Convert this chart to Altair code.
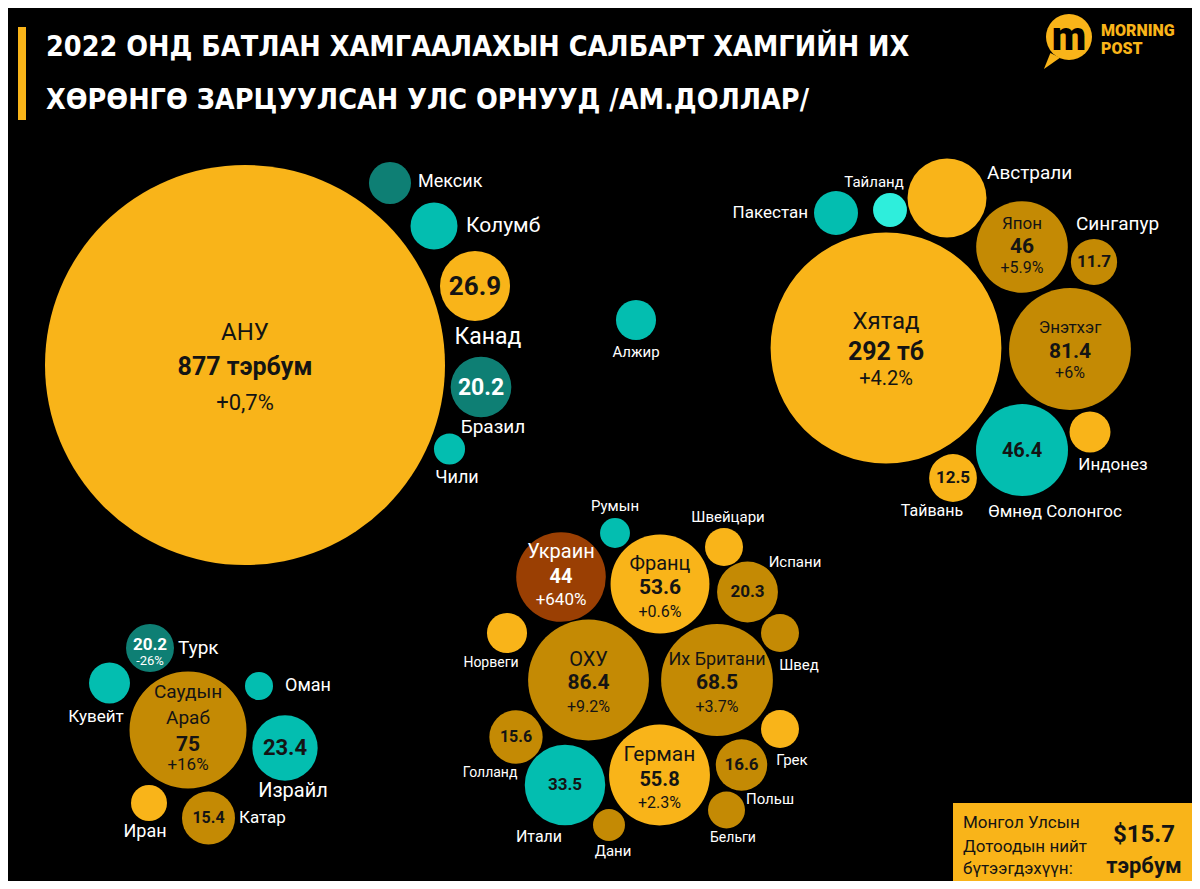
import altair as alt
import pandas as pd

# ---------------- data ----------------
countries = ["АНУ", "Мексик", "Колумб", "Канад", "Бразил", "Чили", "Алжир",
             "Хятад", "Пакестан", "Тайланд", "Австрали", "Япон", "Сингапур", "Энэтхэг",
             "Өмнөд Солонгос", "Индонез", "Тайвань",
             "Саудын Араб", "Турк", "Кувейт", "Оман", "Израйл", "Иран", "Катар",
             "Украин", "Румын", "Франц", "Швейцари", "Испани", "Швед", "Норвеги", "ОХУ",
             "Их Британи", "Грек", "Польш", "Бельги", "Герман", "Голланд", "Итали", "Дани"]
# spending, bn USD (unlabelled bubbles estimated from their area)
spend = [877, 9.7, 12.1, 26.9, 20.2, 5.3, 8.8,
         292, 10.6, 6.3, 34.2, 46, 11.7, 81.4,
         46.4, 9.2, 12.5,
         75, 12.6, 9.2, 4.3, 23.4, 7.1, 15.4,
         44, 4.9, 53.6, 7.9, 20.3, 7.9, 8.8, 80,
         68.5, 7.9, 14.5, 7.5, 55.8, 15.6, 35.5, 5.6]
group = ["Y", "DT", "T", "Y", "DT", "T", "T",
         "Y", "T", "LC", "Y", "G", "G", "G",
         "T", "Y", "Y",
         "G", "DT", "T", "T", "T", "Y", "G",
         "BR", "T", "Y", "Y", "G", "G", "Y", "G",
         "G", "Y", "G", "G", "Y", "G", "T", "G"]
# bubble layout (reference pixel grid)
cx = [245, 390, 434, 475, 481, 449.5, 636,
      886, 836, 890, 947, 1022, 1094, 1070,
      1022, 1090, 953,
      188, 150, 109.5, 259, 285, 149, 208.5,
      561, 615, 660, 724, 747.5, 780, 507, 588.5,
      717, 780, 741.5, 726.5, 659.5, 516, 565, 609]
cy = [365, 183, 226, 286, 387, 449, 320,
      348, 213, 210, 198, 247, 262, 349,
      450, 432, 478,
      730, 648, 683, 686, 748, 803, 818,
      577, 533, 584, 547, 592, 633, 633, 680,
      680, 729, 765, 810, 775, 737, 785, 825]

group_keys = ["Y", "G", "T", "DT", "LC", "BR"]
group_colors = ["#F9B419", "#C48A04", "#03BEB0", "#0E7F74", "#2EEEDC", "#9A3F03"]

DARK = "#141414"
WHITE = "#FFFFFF"
# labels: text, x, y, font size, bold, colour, align
labels = [
    ("АНУ", 245, 333, 24, False, DARK, "center"),
    ("877 тэрбум", 245, 367, 25, True, DARK, "center"),
    ("+0,7%", 245, 403, 22, False, DARK, "center"),
    ("Мексик", 418, 182, 18, False, WHITE, "left"),
    ("Колумб", 466, 226, 21, False, WHITE, "left"),
    ("26.9", 475, 287, 26, True, DARK, "center"),
    ("Канад", 488, 337, 23, False, WHITE, "center"),
    ("20.2", 481, 388, 23, True, WHITE, "center"),
    ("Бразил", 493, 427, 19, False, WHITE, "center"),
    ("Чили", 457, 478, 18, False, WHITE, "center"),
    ("Алжир", 636, 352, 15, False, WHITE, "center"),
    ("Хятад", 886, 322, 24, False, DARK, "center"),
    ("292 тб", 886, 352, 25, True, DARK, "center"),
    ("+4.2%", 886, 379, 20, False, DARK, "center"),
    ("Пакестан", 808, 213, 17, False, WHITE, "right"),
    ("Тайланд", 874, 182, 15, False, WHITE, "center"),
    ("Австрали", 987, 173, 19, False, WHITE, "left"),
    ("Япон", 1022, 224, 17, False, DARK, "center"),
    ("46", 1022, 247, 21, True, DARK, "center"),
    ("+5.9%", 1022, 268, 16, False, DARK, "center"),
    ("Сингапур", 1076, 224, 19, False, WHITE, "left"),
    ("11.7", 1094, 262, 17, True, DARK, "center"),
    ("Энэтхэг", 1070, 328, 17, False, DARK, "center"),
    ("81.4", 1070, 352, 21, True, DARK, "center"),
    ("+6%", 1070, 373, 16, False, DARK, "center"),
    ("46.4", 1022, 451, 20, True, DARK, "center"),
    ("Өмнөд Солонгос", 1055, 512, 17, False, WHITE, "center"),
    ("Индонез", 1113, 465, 17, False, WHITE, "center"),
    ("12.5", 953, 478, 17, True, DARK, "center"),
    ("Тайвань", 932, 511, 16, False, WHITE, "center"),
    ("20.2", 150, 645, 17, True, WHITE, "center"),
    ("-26%", 150, 661, 13, False, WHITE, "center"),
    ("Турк", 178, 648, 19, False, WHITE, "left"),
    ("Кувейт", 96, 717, 17, False, WHITE, "center"),
    ("Оман", 285, 686, 18, False, WHITE, "left"),
    ("Саудын", 188, 692, 19, False, DARK, "center"),
    ("Араб", 188, 718, 19, False, DARK, "center"),
    ("75", 188, 745, 21, True, DARK, "center"),
    ("+16%", 188, 765, 17, False, DARK, "center"),
    ("23.4", 285, 748, 22, True, DARK, "center"),
    ("Израйл", 293, 791, 20, False, WHITE, "center"),
    ("Иран", 145, 832, 18, False, WHITE, "center"),
    ("15.4", 208.5, 818, 16, True, DARK, "center"),
    ("Катар", 239, 818, 17, False, WHITE, "left"),
    ("Украин", 561, 552, 20, False, WHITE, "center"),
    ("44", 561, 577, 20, True, WHITE, "center"),
    ("+640%", 561, 600, 17, False, WHITE, "center"),
    ("Румын", 615, 506, 15, False, WHITE, "center"),
    ("Франц", 660, 564, 20, False, DARK, "center"),
    ("53.6", 660, 588, 21, True, DARK, "center"),
    ("+0.6%", 660, 612, 16, False, DARK, "center"),
    ("Швейцари", 728, 517, 15, False, WHITE, "center"),
    ("20.3", 747.5, 592, 17, True, DARK, "center"),
    ("Испани", 795, 562, 15, False, WHITE, "center"),
    ("Швед", 799, 665, 15, False, WHITE, "center"),
    ("Норвеги", 491, 663, 14, False, WHITE, "center"),
    ("ОХУ", 588.5, 660, 20, False, DARK, "center"),
    ("86.4", 588.5, 683, 21, True, DARK, "center"),
    ("+9.2%", 588.5, 707, 16, False, DARK, "center"),
    ("Их Британи", 717, 660, 18, False, DARK, "center"),
    ("68.5", 717, 683, 21, True, DARK, "center"),
    ("+3.7%", 717, 707, 16, False, DARK, "center"),
    ("Грек", 792, 760, 15, False, WHITE, "center"),
    ("16.6", 741.5, 765, 17, True, DARK, "center"),
    ("Польш", 770, 799, 15, False, WHITE, "center"),
    ("Бельги", 733, 838, 14, False, WHITE, "center"),
    ("Герман", 659.5, 755, 21, False, DARK, "center"),
    ("55.8", 659.5, 780, 20, True, DARK, "center"),
    ("+2.3%", 659.5, 803, 16, False, DARK, "center"),
    ("15.6", 516, 737, 16, True, DARK, "center"),
    ("Голланд", 490, 773, 14, False, WHITE, "center"),
    ("33.5", 565, 785, 17, True, DARK, "center"),
    ("Итали", 539, 837, 16, False, WHITE, "center"),
    ("Дани", 613, 851, 15, False, WHITE, "center"),
    # GDP box
    ("Монгол Улсын", 963, 823, 17, False, DARK, "left"),
    ("Дотоодын нийт", 963, 847, 17, False, DARK, "left"),
    ("бүтээгдэхүүн:", 963, 869, 17, False, DARK, "left"),
    ("$15.7", 1144, 835, 24, True, DARK, "center"),
    ("тэрбум", 1144, 866, 22, True, DARK, "center"),
]

title_lines = ["2022 ОНД БАТЛАН ХАМГААЛАХЫН САЛБАРТ ХАМГИЙН ИХ",
               "ХӨРӨНГӨ ЗАРЦУУЛСАН УЛС ОРНУУД /АМ.ДОЛЛАР/"]

# ---------------- chart ----------------
W, H = 1184, 873
# Vega circle: radius = sqrt(size) / 2 -> 877 bn maps to a 200 px radius
MAX_SIZE = 4 * 200 ** 2


def X(f="x"):
    return alt.X(f"{f}:Q", scale=alt.Scale(domain=[8, 1192], nice=False, zero=False), axis=None)


def Y(f="y"):
    return alt.Y(f"{f}:Q", scale=alt.Scale(domain=[8, 881], nice=False, zero=False, reverse=True), axis=None)


bub = pd.DataFrame({"country": countries, "spend": spend, "group": group, "x": cx, "y": cy})
bubbles = alt.Chart(bub).mark_circle(opacity=1).encode(
    x=X(), y=Y(),
    size=alt.Size("spend:Q", scale=alt.Scale(type="linear", domain=[0, 877], range=[0, MAX_SIZE], zero=True), legend=None),
    color=alt.Color("group:N", scale=alt.Scale(domain=group_keys, range=group_colors), legend=None),
)

lab = pd.DataFrame(labels, columns=["text", "x", "y", "fs", "bold", "color", "align"])
layers = []
for (bold, align, fs, col), sub in lab.groupby(["bold", "align", "fs", "color"]):
    layers.append(alt.Chart(sub[["text", "x", "y"]].reset_index(drop=True)).mark_text(
        font="Roboto", fontWeight="bold" if bold else "normal", align=align, baseline="middle",
        fontSize=int(fs), color=col
    ).encode(x=X(), y=Y(), text="text:N"))

# title
tdf = pd.DataFrame({"text": title_lines, "x": [46, 46], "y": [47, 100]})
title = alt.Chart(tdf).mark_text(font="DejaVu Sans Condensed", fontWeight="bold", fontSize=28.5,
                                 align="left", baseline="middle", color="white").encode(
    x=X(), y=Y(), text="text:N")

deco = pd.DataFrame({"x": [18, 953], "x2": [26, 1192], "y": [27, 803], "y2": [120, 881]})
rects = alt.Chart(deco).mark_rect(color="#F9B419").encode(x=X(), x2="x2:Q", y=Y(), y2="y2:Q")

# logo
logo_c = alt.Chart(pd.DataFrame({"x": [1069], "y": [37]})).mark_circle(
    size=4 * 23 ** 2, opacity=1, color="#F9B419").encode(x=X(), y=Y())
logo_t = alt.Chart(pd.DataFrame({"x": [1052], "y": [61]})).mark_point(
    shape="M -0.2 -1 L 1 -0.4 L -1 1 Z", size=260, filled=True, opacity=1, color="#F9B419").encode(x=X(), y=Y())
logo_m = alt.Chart(pd.DataFrame({"x": [1069], "y": [38], "text": ["m"]})).mark_text(
    font="Roboto", fontWeight=900, fontSize=40, color="#000000", baseline="middle").encode(x=X(), y=Y(), text="text:N")
logo_txt = alt.Chart(pd.DataFrame({"x": [1101, 1101], "y": [31, 49], "text": ["MORNING", "POST"]})).mark_text(
    font="Roboto", fontWeight=900, fontSize=16, color="#F9B419", align="left", baseline="middle").encode(
    x=X(), y=Y(), text="text:N")

chart = alt.layer(rects, bubbles, *layers, title, logo_c, logo_t, logo_m, logo_txt).properties(
    width=W, height=H, background="#000000", padding=0,
    autosize=alt.AutoSizeParams(type="none"),
).configure_view(stroke=None)

chart.save("out.html", embed_options={"renderer": "svg", "actions": False})
